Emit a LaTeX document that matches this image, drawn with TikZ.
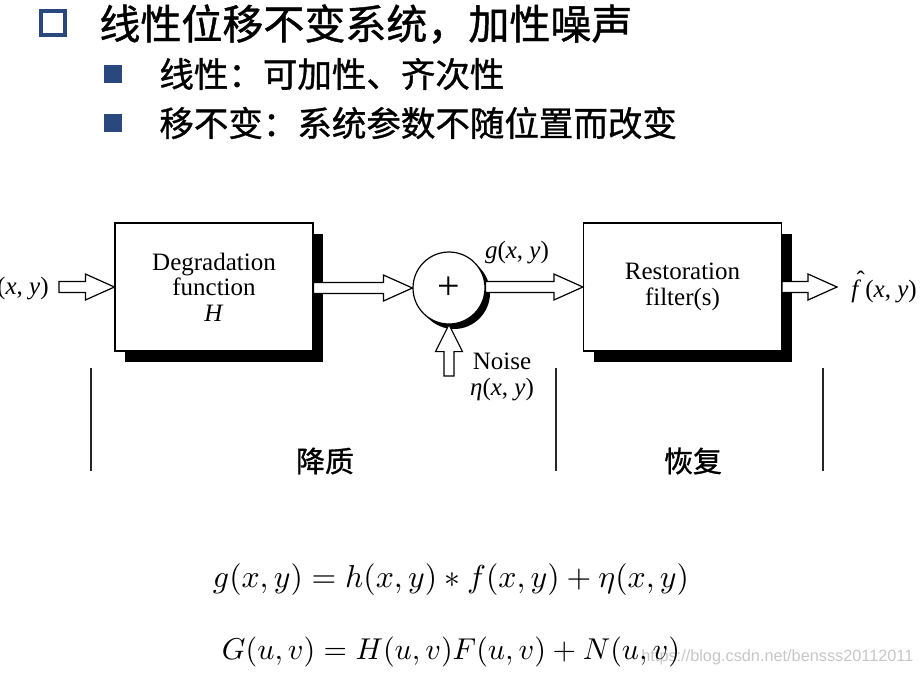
\documentclass[tikz,border=0pt]{standalone}
\usepackage{fontspec}
\usepackage{graphicx}
\setmainfont{Liberation Serif}
\newfontfamily\cjk[FakeBold=1]{Noto Sans CJK SC}
\newfontfamily\wmfont{Liberation Sans}
\usetikzlibrary{shadows,calc}
\definecolor{bulletblue}{RGB}{41,72,125}
\tikzset{
  blk/.style={draw, line width=0.6pt, fill=white, minimum width=99pt, minimum height=64pt,
    inner sep=0pt, align=center, font=\fontsize{12.5}{12.8}\selectfont,
    drop shadow={shadow xshift=5pt, shadow yshift=-5.5pt, opacity=1, fill=black}},
  sumnode/.style={circle, draw, line width=0.6pt, fill=white, minimum size=36pt, inner sep=0pt,
    font=\fontsize{20}{20}\selectfont,
    drop shadow={shadow xshift=2.5pt, shadow yshift=-2.5pt, opacity=1, fill=black}},
  hollow/.style={draw, line width=0.6pt, fill=white, line join=miter},
  lbl/.style={inner sep=0pt, font=\fontsize{12.5}{13}\selectfont, align=center},
  cjklbl/.style={inner sep=0pt, font=\cjk\fontsize{14.5}{14.5}\selectfont},
  sep/.style={line width=0.6pt, black!85}
}
\newcommand\harr[2]{\draw[hollow] let \p1=(#1), \p2=(#2) in
  (\x1,\y2+2.75pt) -- (\x2-14.5pt,\y2+2.75pt) -- (\x2-14.5pt,\y2+6.5pt) -- (\x2,\y2)
  -- (\x2-14.5pt,\y2-6.5pt) -- (\x2-14.5pt,\y2-2.75pt) -- (\x1,\y2-2.75pt) -- cycle;}
\begin{document}
\begin{tikzpicture}[x=0.5pt,y=-0.5pt]
\fill[white] (0,0) rectangle (922,677);
\useasboundingbox (0,0) rectangle (922,677);
% header
\draw[bulletblue, line width=1.6pt] (41,11) rectangle (65,35);
\node[anchor=west, inner sep=0pt, font=\cjk\fontsize{20.5}{20.5}\selectfont] (title) at (99,24) {线性位移不变系统，加性噪声};
\fill[bulletblue] (104,65) rectangle (122,83);
\node[anchor=west, inner sep=0pt, font=\cjk\fontsize{17.25}{17.25}\selectfont] (b1) at (159,74) {线性：可加性、齐次性};
\fill[bulletblue] (104,114) rectangle (122,132);
\node[anchor=west, inner sep=0pt, font=\cjk\fontsize{17.25}{17.25}\selectfont] (b2) at (159,123) {移不变：系统参数不随位置而改变};
% diagram
\node[blk] (H) at (214,287) {Degradation\\function\\\textit{H}};
\node[blk] (R) at (682.5,287) {Restoration\\filter(s)};
\node[sumnode] (S) at (449,288) {+};
\node[lbl, anchor=east] (fin) at (49,288) {\textit{f}(\textit{x}, \textit{y})};
\coordinate (tail) at (59,287);
\coordinate (out) at (837,287);
\coordinate (nz) at (448,376);
\harr{tail}{H.west}
\harr{H.east}{S.west}
\harr{S.east}{R.west}
\harr{R.east}{out}
\draw[hollow] let \p1=(nz), \p2=(S.south) in
  (\x2-2.5pt,\y1) -- (\x2-2.5pt,\y2-13.5pt) -- (\x2-6.75pt,\y2-13.5pt) -- (\x2,\y2)
  -- (\x2+6.75pt,\y2-13.5pt) -- (\x2+2.5pt,\y2-13.5pt) -- (\x2+2.5pt,\y1) -- cycle;
\node[lbl] (g) at (517,253) {\textit{g}(\textit{x}, \textit{y})};
\node[lbl] (noise) at (502,377) {Noise\\\textit{η}(\textit{x}, \textit{y})};
\node[lbl, anchor=west] (fhat) at (851,287) {\makebox[0pt][l]{\hspace{2.6pt}\raisebox{4.5pt}{ˆ}}\textit{f}\,(\textit{x}, \textit{y})};
% separators
\draw[sep] (91,368) -- (91,471);
\draw[sep] (556,368) -- (556,471);
\draw[sep] (823,368) -- (823,471);
\node[cjklbl] (deg) at (325,461) {降质};
\node[cjklbl] (rest) at (693,461) {恢复};
% equations
\node[inner sep=0pt, anchor=west, text=black!22] (wm) at (641,657) {\resizebox{136pt}{!}{\wmfont https://blog.csdn.net/bensss20112011}};
\node[inner sep=0pt] (eq1) at (451,580) {\resizebox{238pt}{!}{$g(x,y)=h(x,y)\ast f(x,y)+\eta(x,y)$}};
\node[inner sep=0pt] (eq2) at (451,652) {\resizebox{229pt}{!}{$G(u,v)=H(u,v)F(u,v)+N(u,v)$}};
\end{tikzpicture}
\end{document}
